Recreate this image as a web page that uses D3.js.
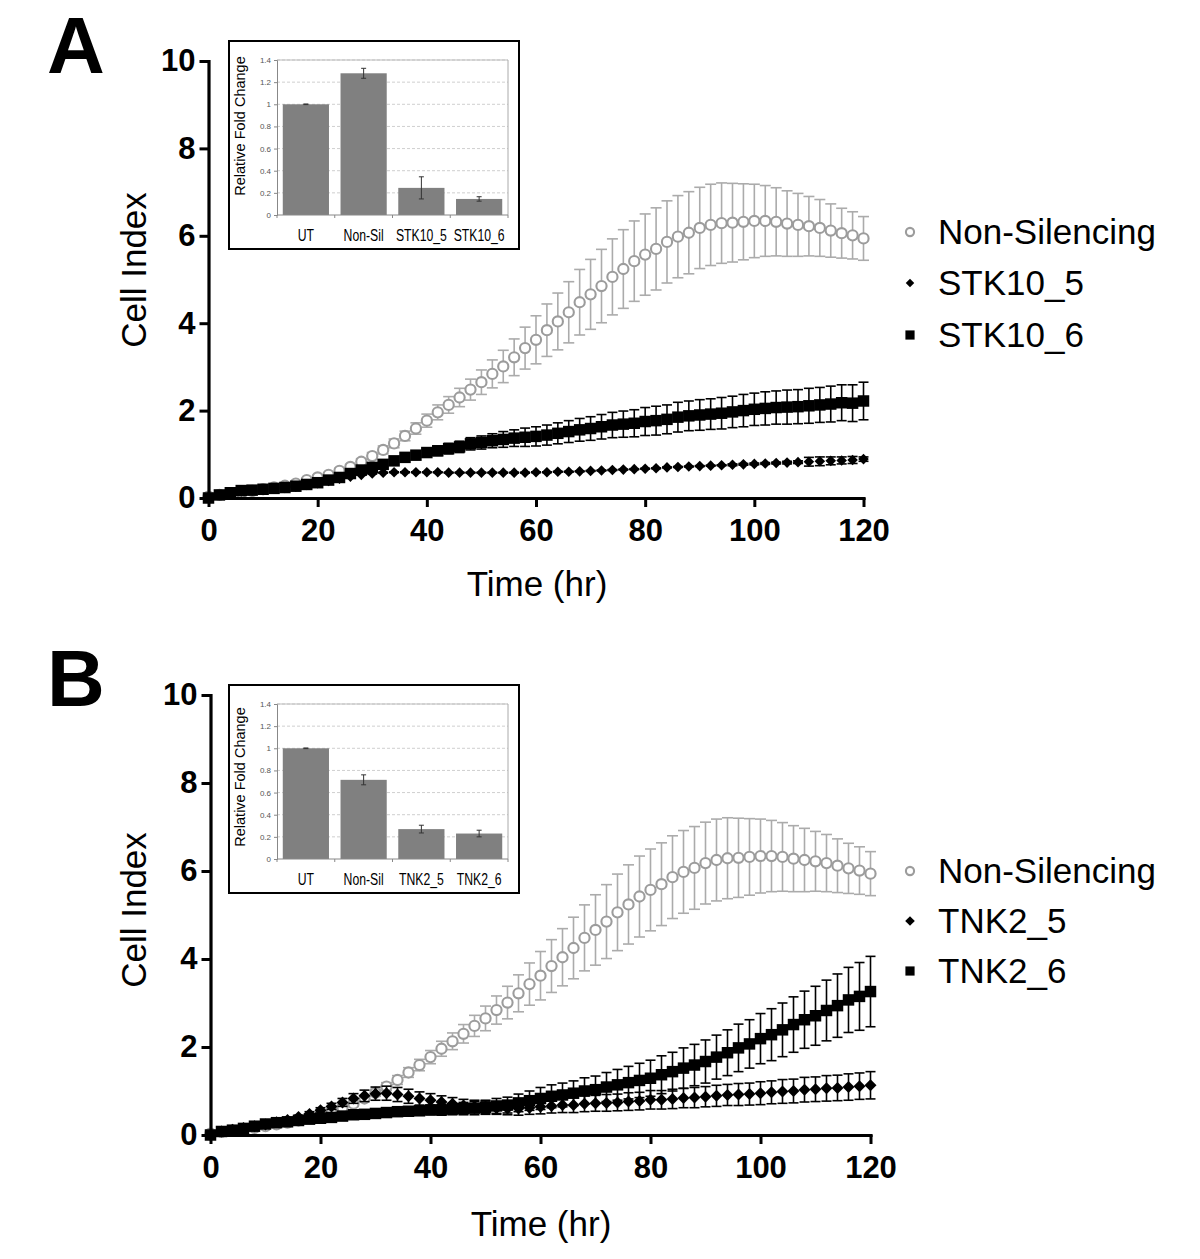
<!DOCTYPE html>
<html><head><meta charset="utf-8">
<script src="https://cdn.jsdelivr.net/npm/d3@7"></script>
<style>body{margin:0;background:#fff}</style>
</head><body>
<svg id="c" width="1200" height="1259" xmlns="http://www.w3.org/2000/svg"></svg>
<script>
// ---------------- DATA ----------------
const timeHr = [0,2,4,6,8,10,12,14,16,18,20,22,24,26,28,30,32,34,36,38,40,42,44,46,48,50,52,54,56,58,60,
  62,64,66,68,70,72,74,76,78,80,82,84,86,88,90,92,94,96,98,100,102,104,106,108,110,112,114,116,118,120];

const nonSilencing = [0.03,0.07,0.10,0.12,0.16,0.20,0.24,0.28,0.33,0.41,0.47,
  0.53,0.62,0.71,0.83,0.96,1.10,1.25,1.42,1.59,1.77,
  1.96,2.13,2.30,2.48,2.65,2.84,3.01,3.22,3.43,3.62,
  3.84,4.04,4.25,4.48,4.66,4.85,5.06,5.24,5.42,5.57,
  5.70,5.86,5.98,6.07,6.18,6.25,6.29,6.30,6.32,6.34,
  6.34,6.32,6.28,6.25,6.22,6.18,6.12,6.06,6.01,5.94];
const nonSilencingSD = [0.02,0.02,0.02,0.02,0.03,0.03,0.03,0.03,0.04,0.04,0.05,
  0.05,0.06,0.06,0.07,0.08,0.09,0.10,0.11,0.13,0.15,
  0.17,0.19,0.21,0.24,0.28,0.32,0.37,0.42,0.48,0.55,
  0.60,0.65,0.70,0.75,0.80,0.84,0.87,0.90,0.92,0.93,
  0.94,0.94,0.94,0.94,0.93,0.93,0.92,0.90,0.87,0.84,
  0.81,0.78,0.75,0.72,0.68,0.65,0.61,0.57,0.54,0.50];

const stk10_5 = [0.02,0.07,0.11,0.15,0.17,0.19,0.21,0.23,0.26,0.30,0.34,
  0.39,0.44,0.49,0.53,0.56,0.58,0.59,0.59,0.59,0.59,
  0.59,0.58,0.58,0.58,0.58,0.58,0.58,0.58,0.58,0.59,
  0.59,0.60,0.60,0.61,0.62,0.63,0.64,0.65,0.66,0.67,
  0.68,0.70,0.71,0.72,0.73,0.74,0.75,0.76,0.77,0.78,
  0.79,0.80,0.81,0.82,0.83,0.84,0.85,0.86,0.87,0.89];
const stk10_5SD = [0.01,0.01,0.01,0.01,0.01,0.01,0.01,0.01,0.01,0.01,0.01,
  0.01,0.01,0.01,0.01,0.01,0.01,0.01,0.01,0.01,0.01,
  0.01,0.01,0.01,0.01,0.01,0.01,0.01,0.01,0.01,0.01,
  0.01,0.01,0.01,0.01,0.01,0.01,0.01,0.01,0.01,0.01,
  0.01,0.01,0.01,0.01,0.01,0.01,0.01,0.02,0.02,0.02,
  0.02,0.02,0.03,0.03,0.10,0.10,0.09,0.08,0.08,0.05];

const stk10_6 = [0.00,0.07,0.12,0.17,0.18,0.20,0.22,0.24,0.27,0.31,0.35,
  0.41,0.47,0.56,0.64,0.70,0.77,0.85,0.93,0.98,1.04,
  1.08,1.13,1.17,1.24,1.27,1.31,1.34,1.37,1.39,1.41,
  1.44,1.48,1.52,1.56,1.59,1.63,1.67,1.69,1.71,1.75,
  1.77,1.80,1.85,1.88,1.90,1.92,1.94,1.97,2.00,2.03,
  2.05,2.07,2.08,2.09,2.11,2.13,2.15,2.18,2.17,2.22];
const stk10_6SD = [0.01,0.01,0.01,0.02,0.02,0.02,0.02,0.02,0.02,0.03,0.03,
  0.03,0.03,0.04,0.04,0.05,0.06,0.07,0.08,0.09,0.10,
  0.11,0.12,0.13,0.14,0.15,0.16,0.18,0.19,0.21,0.22,
  0.23,0.24,0.25,0.26,0.27,0.28,0.29,0.30,0.31,0.32,
  0.33,0.33,0.34,0.34,0.35,0.35,0.36,0.36,0.37,0.37,
  0.38,0.38,0.39,0.39,0.40,0.40,0.41,0.41,0.42,0.43];

const tnk2_5 = [0.00,0.08,0.12,0.16,0.20,0.24,0.29,0.34,0.41,0.48,0.56,
  0.65,0.74,0.83,0.89,0.94,0.95,0.92,0.88,0.83,0.79,
  0.75,0.71,0.67,0.65,0.63,0.61,0.60,0.60,0.62,0.64,
  0.66,0.68,0.68,0.71,0.72,0.73,0.74,0.76,0.77,0.80,
  0.80,0.82,0.84,0.85,0.87,0.89,0.91,0.92,0.93,0.95,
  0.97,0.99,1.00,1.03,1.04,1.06,1.07,1.09,1.11,1.13];
const tnk2_5SD = [0.01,0.01,0.01,0.02,0.02,0.02,0.03,0.03,0.04,0.05,0.06,
  0.07,0.09,0.11,0.13,0.15,0.16,0.16,0.16,0.15,0.15,
  0.14,0.14,0.14,0.14,0.14,0.14,0.14,0.15,0.15,0.16,
  0.16,0.17,0.17,0.18,0.18,0.19,0.19,0.20,0.20,0.21,
  0.21,0.22,0.22,0.23,0.23,0.24,0.24,0.25,0.25,0.26,
  0.26,0.27,0.27,0.28,0.28,0.29,0.29,0.30,0.30,0.31];

const tnk2_6 = [0.00,0.08,0.11,0.15,0.20,0.25,0.28,0.30,0.33,0.36,0.38,
  0.40,0.43,0.46,0.47,0.49,0.51,0.53,0.54,0.55,0.57,
  0.57,0.59,0.60,0.61,0.63,0.66,0.68,0.73,0.78,0.83,
  0.88,0.91,0.95,1.00,1.03,1.09,1.14,1.19,1.24,1.29,
  1.37,1.44,1.52,1.59,1.67,1.77,1.87,1.98,2.07,2.19,
  2.28,2.39,2.51,2.62,2.71,2.83,2.94,3.07,3.15,3.26];
const tnk2_6SD = [0.01,0.01,0.01,0.01,0.02,0.02,0.02,0.02,0.03,0.03,0.03,
  0.04,0.04,0.05,0.05,0.06,0.07,0.08,0.09,0.10,0.11,
  0.12,0.13,0.14,0.15,0.16,0.17,0.18,0.20,0.22,0.25,
  0.26,0.27,0.28,0.30,0.31,0.33,0.35,0.37,0.39,0.41,
  0.43,0.44,0.46,0.47,0.49,0.50,0.52,0.54,0.55,0.57,
  0.59,0.61,0.63,0.65,0.67,0.69,0.72,0.74,0.77,0.80];

const yTicks = [0,2,4,6,8,10];
const xTicks = [0,20,40,60,80,100,120];
const insetTicks = [0,0.2,0.4,0.6,0.8,1,1.2,1.4];
const insetTickLabels = ["0","0.2","0.4","0.6","0.8","1","1.2","1.4"];

const insetCatsA = ["UT","Non-Sil","STK10_5","STK10_6"];
const insetValsA = [1.0, 1.28, 0.245, 0.145];
const insetErrA  = [0.003, 0.045, 0.10, 0.02];
const insetCatsB = ["UT","Non-Sil","TNK2_5","TNK2_6"];
const insetValsB = [1.0, 0.715, 0.27, 0.23];
const insetErrB  = [0.003, 0.045, 0.035, 0.03];

const legendA = ["Non-Silencing","STK10_5","STK10_6"];
const legendB = ["Non-Silencing","TNK2_5","TNK2_6"];

// ---------------- DRAW ----------------
const svg = d3.select("#c");
svg.append("rect").attr("width",1200).attr("height",1259).attr("fill","#fff");
const FONT = "'Liberation Sans', Arial, Helvetica, sans-serif";
const GRAY = "#9c9c9c", GRAY_ERR = "#ababab";

const panels = [
  { letter:"A", letterY:73, x0:208.5, x1:863.5, y0:498, y1:61, xlabX:537, xlabY:596, ylabY:270,
    legendY:[232,283,335], legend:legendA, diaArea:56,
    series:[
      {vals:nonSilencing, sd:nonSilencingSD, kind:"circle"},
      {vals:stk10_5, sd:stk10_5SD, kind:"diamond"},
      {vals:stk10_6, sd:stk10_6SD, kind:"square"} ],
    inset:{x:229, y:41, w:290, h:208, cats:insetCatsA, vals:insetValsA, err:insetErrA, labY:126} },
  { letter:"B", letterY:706, x0:210.5, x1:870.5, y0:1135, y1:695, xlabX:541, xlabY:1236, ylabY:910,
    legendY:[871,921,971], legend:legendB, diaArea:72,
    series:[
      {vals:nonSilencing, sd:nonSilencingSD, kind:"circle"},
      {vals:tnk2_5, sd:tnk2_5SD, kind:"diamond"},
      {vals:tnk2_6, sd:tnk2_6SD, kind:"square"} ],
    inset:{x:229, y:685, w:290, h:208, cats:insetCatsB, vals:insetValsB, err:insetErrB, labY:777} }
];

function drawMarker(g, kind, cx, cy, scale, diaArea) {
  if (kind === "circle") {
    g.append("circle").attr("cx",cx).attr("cy",cy).attr("r",5.1*scale)
      .attr("fill","#fff").attr("stroke",GRAY).attr("stroke-width",2.1);
  } else if (kind === "square") {
    g.append("path").attr("d", d3.symbol(d3.symbolSquare, 132*scale*scale)())
      .attr("transform",`translate(${cx},${cy})`).attr("fill","#000");
  } else {
    g.append("path").attr("d", d3.symbol(d3.symbolSquare, diaArea*scale*scale)())
      .attr("transform",`translate(${cx},${cy}) rotate(45)`).attr("fill","#000");
  }
}

panels.forEach(p => {
  const g = svg.append("g");
  const x = d3.scaleLinear().domain([0,120]).range([p.x0,p.x1]);
  const y = d3.scaleLinear().domain([0,10]).range([p.y0,p.y1]);

  // series
  p.series.forEach(s => {
    const col = s.kind === "circle" ? GRAY_ERR : "#000";
    const cap = s.kind === "circle" ? 5.5 : 5;
    const sg = g.append("g");
    const pts = timeHr.map((t,i) => ({t, v:s.vals[i], e:s.sd[i]}));
    const eb = sg.append("g").attr("stroke",col).attr("stroke-width",1.6).attr("fill","none");
    pts.forEach(d => {
      const xx = x(d.t), ya = y(d.v - d.e), yb = y(d.v + d.e);
      eb.append("line").attr("x1",xx).attr("x2",xx).attr("y1",ya).attr("y2",yb);
      eb.append("line").attr("x1",xx-cap).attr("x2",xx+cap).attr("y1",ya).attr("y2",ya);
      eb.append("line").attr("x1",xx-cap).attr("x2",xx+cap).attr("y1",yb).attr("y2",yb);
    });
    const mg = sg.append("g");
    pts.forEach(d => drawMarker(mg, s.kind, x(d.t), y(d.v), 1, p.diaArea));
  });

  // axes
  const ya = g.append("g").attr("transform",`translate(${p.x0},0)`)
    .call(d3.axisLeft(y).tickValues(yTicks).tickSize(9).tickSizeOuter(0).tickPadding(4).tickFormat(d3.format("d")));
  const xa = g.append("g").attr("transform",`translate(0,${p.y0})`)
    .call(d3.axisBottom(x).tickValues(xTicks).tickSize(9).tickSizeOuter(0).tickPadding(12).tickFormat(d3.format("d")));
  [ya, xa].forEach(a => {
    a.selectAll("path.domain").attr("stroke","#000").attr("stroke-width",3.2).attr("stroke-linecap","square");
    a.selectAll(".tick line").attr("stroke","#000").attr("stroke-width",3);
    a.selectAll(".tick text").attr("font-family",FONT).attr("font-size",31).attr("font-weight","bold").attr("fill","#000");
  });

  // labels
  g.append("text").attr("x",47).attr("y",p.letterY).text(p.letter)
    .attr("font-family",FONT).attr("font-weight","bold").attr("font-size",80);
  g.append("text").attr("x",p.xlabX).attr("y",p.xlabY).attr("text-anchor","middle").text("Time (hr)")
    .attr("font-family",FONT).attr("font-size",35);
  g.append("text").attr("transform",`translate(146,${p.ylabY}) rotate(-90)`).attr("text-anchor","middle")
    .text("Cell Index").attr("font-family",FONT).attr("font-size",35);

  // legend
  p.legend.forEach((name,i) => {
    const kind = p.series[i].kind;
    drawMarker(g, kind, 910, p.legendY[i], 0.8, p.diaArea);
    g.append("text").attr("x",938).attr("y",p.legendY[i]+12).text(name)
      .attr("font-family",FONT).attr("font-size",35);
  });

  // inset
  const I = p.inset;
  const ig = g.append("g");
  ig.append("rect").attr("x",I.x).attr("y",I.y).attr("width",I.w).attr("height",I.h)
    .attr("fill","#fff").attr("stroke","#000").attr("stroke-width",2);
  const L = I.x + 48, R = I.x + 279, T = I.y + 19, B = I.y + 174;
  const xi = d3.scaleBand().domain(I.cats).range([L,R]).paddingInner(0.2).paddingOuter(0.1);
  const yi = d3.scaleLinear().domain([0,1.4]).range([B,T]);
  insetTicks.slice(1).forEach(t => {
    ig.append("line").attr("x1",L).attr("x2",R).attr("y1",yi(t)).attr("y2",yi(t))
      .attr("stroke","#cfcfcf").attr("stroke-width",1).attr("stroke-dasharray","3,2");
  });
  ig.append("line").attr("x1",R).attr("x2",R).attr("y1",T).attr("y2",B).attr("stroke","#aaa");
  ig.append("line").attr("x1",L).attr("x2",R).attr("y1",T).attr("y2",T).attr("stroke","#bbb");
  const yia = ig.append("g").attr("transform",`translate(${L},0)`)
    .call(d3.axisLeft(yi).tickValues(insetTicks).tickSize(3).tickPadding(3)
      .tickFormat((d,i) => insetTickLabels[i]));
  yia.selectAll("path.domain").attr("stroke","#888");
  yia.selectAll(".tick line").attr("stroke","#888");
  yia.selectAll(".tick text").attr("font-family",FONT).attr("font-size",8).attr("fill","#555");

  // bars
  I.cats.forEach((c,i) => {
    ig.append("rect").attr("x",xi(c)).attr("y",yi(I.vals[i])).attr("width",xi.bandwidth())
      .attr("height",yi(0)-yi(I.vals[i])).attr("fill","#808080");
    const cx = xi(c) + xi.bandwidth()/2, ya1 = yi(I.vals[i]-I.err[i]), ya2 = yi(I.vals[i]+I.err[i]);
    ig.append("line").attr("x1",cx).attr("x2",cx).attr("y1",ya1).attr("y2",ya2).attr("stroke","#333").attr("stroke-width",1);
    ig.append("line").attr("x1",cx-2.5).attr("x2",cx+2.5).attr("y1",ya1).attr("y2",ya1).attr("stroke","#333");
    ig.append("line").attr("x1",cx-2.5).attr("x2",cx+2.5).attr("y1",ya2).attr("y2",ya2).attr("stroke","#333");
    ig.append("text").attr("transform",`translate(${cx},${I.y+200}) scale(0.72,1)`)
      .attr("text-anchor","middle").text(c).attr("font-family",FONT).attr("font-size",17);
  });
  // x axis of inset
  ig.append("line").attr("x1",L).attr("x2",R).attr("y1",B).attr("y2",B).attr("stroke","#888");
  const step = (R-L)/I.cats.length;
  for (let k=0;k<=I.cats.length;k++) {
    ig.append("line").attr("x1",L+k*step).attr("x2",L+k*step).attr("y1",B).attr("y2",B+3).attr("stroke","#888");
  }
  ig.append("text").attr("transform",`translate(${I.x+16},${I.labY}) rotate(-90)`)
    .attr("text-anchor","middle").text("Relative Fold Change")
    .attr("font-family",FONT).attr("font-size",14.5);
});
</script>
</body></html>
